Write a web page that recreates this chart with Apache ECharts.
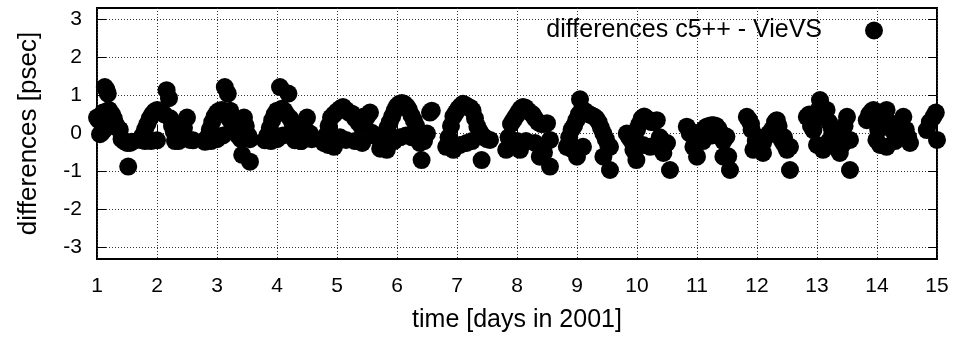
<!DOCTYPE html>
<html>
<head>
<meta charset="utf-8">
<script src="https://cdn.jsdelivr.net/npm/echarts@6/dist/echarts.min.js"></script>
<style>
  html, body {margin: 0; padding: 0; background: #fff;}
  #chart {width: 958px; height: 339px;}
</style>
</head>
<body>
<div id="chart"></div>
<script>
var timeDays = [
  1.00,1.03,1.06,1.10,1.13,1.16,1.18,1.20,1.22,1.25,1.28,1.31,1.34,1.38,1.41,1.45,1.50,1.52,1.55,1.58,1.05,1.08,1.12,
  1.72,1.76,1.80,1.84,1.88,1.92,1.96,2.00,2.04,2.08,2.12,2.16,2.20,2.22,2.25,2.28,2.32,2.36,2.40,2.45,2.50,2.55,2.60,1.80,1.90,2.00,2.30,
  2.80,2.84,2.88,2.92,2.96,3.00,3.04,3.08,3.13,3.18,3.22,3.20,3.25,3.30,3.35,3.40,3.45,3.48,3.52,3.55,3.42,3.55,2.90,3.00,3.10,
  3.80,3.84,3.88,3.92,3.96,4.00,4.05,4.08,4.12,4.16,4.19,4.22,4.26,4.30,4.35,4.40,4.45,4.50,4.55,4.58,3.90,4.00,4.10,4.30,4.40,
  4.78,4.82,4.86,4.90,4.95,5.00,5.05,5.10,5.15,5.20,5.25,5.30,5.35,5.40,5.45,5.50,5.55,5.58,4.85,4.95,5.05,5.15,5.30,5.42,5.60,
  5.72,5.76,5.80,5.84,5.88,5.92,5.96,6.00,6.04,6.08,6.12,6.16,6.20,6.24,6.28,6.32,6.36,6.40,6.45,6.50,6.55,6.58,5.83,5.95,6.05,6.15,6.25,6.38,6.41,
  6.82,6.86,6.90,6.94,6.98,7.02,7.06,7.10,7.14,7.18,7.22,7.26,7.30,7.34,7.38,7.42,7.46,7.50,7.55,6.94,7.05,7.16,7.25,7.41,
  7.82,7.86,7.90,7.94,7.98,8.02,8.06,8.10,8.14,8.18,8.22,8.26,8.30,8.35,8.40,8.45,8.50,8.55,7.90,8.00,8.05,8.15,8.30,8.38,8.45,8.55,
  8.83,8.87,8.91,8.95,8.99,9.03,9.05,9.08,9.12,9.16,9.20,9.24,9.28,9.32,9.36,9.40,9.44,9.48,9.52,9.55,8.90,9.00,9.10,9.44,9.55,
  9.83,9.87,9.91,9.95,10.00,10.04,10.08,10.12,10.16,10.20,10.24,10.28,10.33,10.38,10.44,10.50,10.55,9.94,9.99,10.10,10.22,10.40,10.44,
  10.83,10.88,10.94,11.00,11.04,11.08,11.12,11.16,11.20,11.24,11.28,11.32,11.36,11.40,11.44,11.49,11.52,11.55,10.90,11.10,11.25,11.44,
  11.83,11.87,11.91,11.94,11.98,12.02,12.06,12.10,12.15,12.20,12.25,12.30,12.33,12.36,12.38,12.42,12.46,12.50,12.55,11.90,12.10,12.45,12.55,
  12.83,12.87,12.91,12.94,12.98,13.02,13.05,13.08,13.12,13.16,13.20,13.25,13.30,13.35,13.38,13.42,13.46,13.50,13.55,13.55,12.90,13.00,13.10,13.20,13.30,
  13.83,13.87,13.91,13.94,13.98,14.02,14.06,14.10,14.16,14.20,14.25,14.30,14.36,14.40,14.44,14.48,14.52,14.55,13.99,14.05,14.16,14.30,
  14.83,14.88,14.94,14.98,15.00
];

// differences c5++ - VieVS [psec], same order as timeDays
var diffPsec = [
  0.42,0.35,0.40,0.55,1.22,1.15,1.05,0.62,0.55,0.50,0.40,0.25,0.15,0.10,-0.15,-0.20,-0.25,-0.87,-0.25,-0.22,-0.02,0.02,0.10,
  -0.17,-0.05,0.10,0.25,0.40,0.50,0.58,0.62,0.60,0.55,0.50,1.14,0.93,0.40,0.20,0.05,-0.15,-0.20,-0.15,0.15,0.42,-0.17,-0.18,-0.20,-0.20,-0.18,-0.20,
  -0.22,-0.10,0.10,0.30,0.45,0.55,0.60,0.62,1.22,1.05,0.60,0.40,0.25,0.10,-0.05,-0.15,0.42,0.20,-0.05,-0.15,-0.56,-0.74,-0.20,-0.15,-0.05,
  -0.18,-0.05,0.15,0.35,0.50,0.60,1.22,0.65,0.60,0.50,1.05,0.40,0.25,0.10,-0.05,-0.20,0.20,0.42,0.00,-0.15,-0.20,-0.15,-0.05,-0.18,-0.20,
  -0.25,-0.05,0.20,0.42,0.50,0.58,0.65,0.70,0.62,0.55,0.52,0.40,0.30,0.20,0.45,0.44,0.55,0.02,-0.30,-0.35,-0.10,-0.17,-0.20,-0.25,-0.05,
  -0.40,-0.20,0.00,0.15,0.30,0.45,0.60,0.72,0.78,0.80,0.78,0.72,0.62,0.48,0.35,0.20,0.05,-0.10,-0.20,0.00,0.55,0.60,-0.43,-0.20,-0.10,-0.05,-0.10,-0.25,-0.70,
  -0.35,-0.10,0.20,0.45,0.55,0.65,0.72,0.78,0.75,0.70,0.68,0.60,0.40,0.18,0.05,-0.05,-0.10,-0.15,-0.17,-0.43,-0.30,-0.25,-0.20,-0.70,
  -0.43,-0.10,0.25,0.35,0.45,0.55,0.65,0.70,0.68,0.60,0.55,0.50,0.40,0.30,0.25,0.25,0.27,-0.17,-0.30,-0.20,-0.43,-0.20,-0.25,-0.61,-0.50,-0.87,
  -0.35,-0.10,0.10,0.20,0.35,0.50,0.90,0.62,0.60,0.55,0.50,0.48,0.45,0.40,0.30,0.15,0.00,-0.15,-0.30,-0.35,-0.40,-0.61,-0.35,-0.61,-0.96,
  0.00,-0.10,-0.20,-0.30,0.10,0.25,0.40,0.45,0.40,0.35,0.30,0.30,0.35,-0.10,-0.25,-0.25,-0.96,-0.43,-0.70,-0.30,-0.35,-0.40,-0.51,
  0.18,0.00,-0.35,-0.61,-0.10,0.05,0.12,0.18,0.20,0.22,0.22,0.20,0.12,0.00,-0.20,-0.08,-0.60,-0.96,0.05,-0.20,-0.05,-0.61,
  0.44,0.35,0.10,-0.43,-0.20,-0.10,-0.30,-0.51,-0.08,0.00,0.10,0.30,0.35,0.20,-0.08,-0.20,-0.30,-0.43,-0.96,0.25,-0.25,-0.10,-0.35,
  0.44,0.50,0.30,0.09,0.40,0.60,0.88,0.70,0.55,0.62,0.30,0.10,0.00,-0.20,-0.51,-0.30,0.20,0.44,-0.17,-0.96,0.20,-0.30,-0.43,-0.20,-0.35,
  0.35,0.50,0.58,0.62,0.40,0.10,0.35,0.50,0.62,0.30,0.10,0.00,-0.10,0.15,0.44,0.10,-0.10,-0.25,-0.17,-0.30,-0.35,-0.20,
  0.09,0.30,0.44,0.55,-0.17
];

var yTicks = [-3, -2, -1, 0, 1, 2, 3];
var seriesName = 'differences c5++ - VieVS';

var font = 'Liberation Sans';
var gridLine = {show: true, lineStyle: {color: '#333', width: 1, type: [1, 2]}};
var tick = {show: true, inside: true, length: 9, lineStyle: {color: '#000', width: 1}};

var points = timeDays.map(function (t, i) { return [t, diffPsec[i]]; });

var myChart = echarts.init(document.getElementById('chart'));
myChart.setOption({
  animation: false,
  grid: {
    left: 97, right: 21, top: 8, bottom: 80,
    show: true, borderColor: '#000', borderWidth: 2, backgroundColor: 'transparent'
  },
  legend: {
    right: 70, top: 13,
    align: 'right',
    itemWidth: 94, itemHeight: 18,
    icon: 'circle',
    textStyle: {fontFamily: font, fontSize: 25, color: '#000'},
    data: [seriesName]
  },
  xAxis: [{
    type: 'value', min: 1, max: 15, interval: 1,
    name: 'time [days in 2001]', nameLocation: 'middle', nameGap: 49,
    nameTextStyle: {fontFamily: font, fontSize: 25, color: '#000'},
    axisLine: {show: false},
    axisTick: tick,
    axisLabel: {fontFamily: font, fontSize: 21, color: '#000', margin: 17},
    splitLine: gridLine
  }, {
    type: 'value', min: 1, max: 15, interval: 1, position: 'top',
    axisLine: {show: false}, axisTick: tick,
    axisLabel: {show: false}, splitLine: {show: false}
  }],
  yAxis: [{
    type: 'value', min: -3.3, max: 3.3,
    name: 'differences [psec]', nameLocation: 'middle', nameGap: 55,
    nameTextStyle: {fontFamily: font, fontSize: 26, color: '#000'},
    axisLine: {show: false},
    axisTick: Object.assign({customValues: yTicks}, tick),
    axisLabel: {customValues: yTicks, fontFamily: font, fontSize: 21, color: '#000', margin: 15},
    splitLine: gridLine
  }, {
    type: 'value', min: -3.3, max: 3.3, position: 'right',
    axisLine: {show: false},
    axisTick: Object.assign({customValues: yTicks}, tick),
    axisLabel: {show: false}, splitLine: {show: false}
  }],
  series: [{
    name: seriesName,
    type: 'scatter',
    data: points,
    symbol: 'circle',
    symbolSize: 18,
    itemStyle: {color: '#000', opacity: 1}
  }]
});
</script>
</body>
</html>
